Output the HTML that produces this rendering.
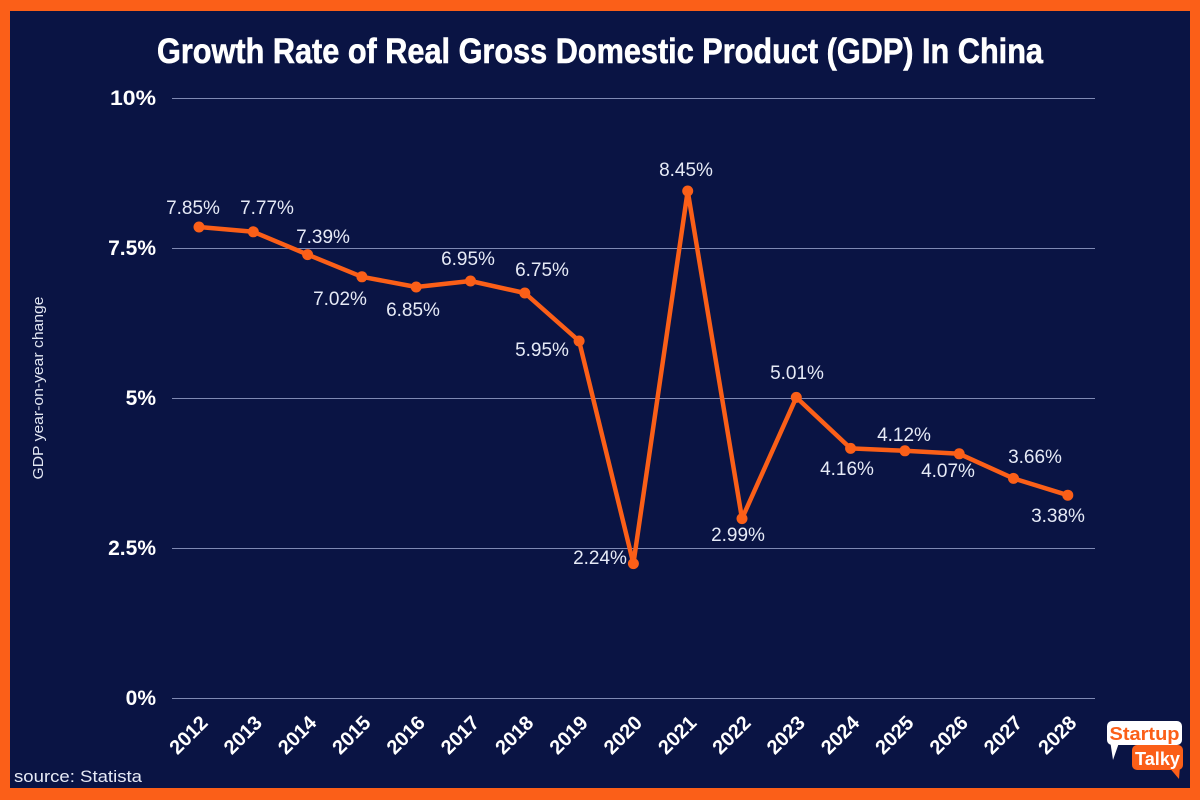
<!DOCTYPE html>
<html>
<head>
<meta charset="utf-8">
<style>
html,body{margin:0;padding:0;background:#fb5f18;}
svg{display:block;}
</style>
</head>
<body>
<svg width="1200" height="800" viewBox="0 0 1200 800" xmlns="http://www.w3.org/2000/svg">
  <rect x="0" y="0" width="1200" height="800" fill="#fb5f18"/>
  <rect x="10" y="11" width="1180" height="777" fill="#0a1444"/>

  <!-- Title -->
  <text x="600" y="63" text-anchor="middle" font-family="Liberation Sans, sans-serif" font-weight="bold" font-size="35" fill="#ffffff" textLength="886" lengthAdjust="spacingAndGlyphs" stroke="#ffffff" stroke-width="0.6">Growth Rate of Real Gross Domestic Product (GDP) In China</text>

  <!-- Gridlines -->
  <g stroke="#7f89b3" stroke-width="1">
    <line x1="172" y1="98.5" x2="1095" y2="98.5"/>
    <line x1="172" y1="248.5" x2="1095" y2="248.5"/>
    <line x1="172" y1="398.5" x2="1095" y2="398.5"/>
    <line x1="172" y1="548.5" x2="1095" y2="548.5"/>
    <line x1="172" y1="698.5" x2="1095" y2="698.5"/>
  </g>

  <!-- Y tick labels -->
  <g font-family="Liberation Sans, sans-serif" font-weight="bold" font-size="21" fill="#ffffff" text-anchor="end">
    <text x="156" y="105" textLength="46" lengthAdjust="spacingAndGlyphs">10%</text>
    <text x="156" y="255">7.5%</text>
    <text x="156" y="405">5%</text>
    <text x="156" y="555">2.5%</text>
    <text x="156" y="705">0%</text>
  </g>

  <!-- Y axis title -->
  <text transform="translate(43,388) rotate(-90)" text-anchor="middle" font-family="Liberation Sans, sans-serif" font-size="15" fill="#e2e6f2" textLength="183" lengthAdjust="spacingAndGlyphs">GDP year-on-year change</text>

  <!-- Line -->
  <polyline fill="none" stroke="#fb5f18" stroke-width="4.5" stroke-linejoin="round"
    points="199,227 253.3,231.8 307.6,254.6 361.9,276.8 416.2,287 470.5,281 524.8,293 579.1,341 633.4,563.6 687.7,191 742,518.6 796.3,397.4 850.6,448.4 904.9,450.8 959.2,453.8 1013.5,478.4 1067.8,495.2"/>
  <g fill="#fb5f18">
    <circle cx="199" cy="227" r="5.5"/>
    <circle cx="253.3" cy="231.8" r="5.5"/>
    <circle cx="307.6" cy="254.6" r="5.5"/>
    <circle cx="361.9" cy="276.8" r="5.5"/>
    <circle cx="416.2" cy="287" r="5.5"/>
    <circle cx="470.5" cy="281" r="5.5"/>
    <circle cx="524.8" cy="293" r="5.5"/>
    <circle cx="579.1" cy="341" r="5.5"/>
    <circle cx="633.4" cy="563.6" r="5.5"/>
    <circle cx="687.7" cy="191" r="5.5"/>
    <circle cx="742" cy="518.6" r="5.5"/>
    <circle cx="796.3" cy="397.4" r="5.5"/>
    <circle cx="850.6" cy="448.4" r="5.5"/>
    <circle cx="904.9" cy="450.8" r="5.5"/>
    <circle cx="959.2" cy="453.8" r="5.5"/>
    <circle cx="1013.5" cy="478.4" r="5.5"/>
    <circle cx="1067.8" cy="495.2" r="5.5"/>
  </g>

  <!-- Data labels -->
  <g font-family="Liberation Sans, sans-serif" font-size="19" fill="#e6eaf6" text-anchor="middle">
    <text x="193" y="214">7.85%</text>
    <text x="267" y="214">7.77%</text>
    <text x="323" y="243">7.39%</text>
    <text x="340" y="305">7.02%</text>
    <text x="413" y="316">6.85%</text>
    <text x="468" y="265">6.95%</text>
    <text x="542" y="276">6.75%</text>
    <text x="542" y="356">5.95%</text>
    <text x="600" y="564">2.24%</text>
    <text x="686" y="176">8.45%</text>
    <text x="738" y="541">2.99%</text>
    <text x="797" y="379">5.01%</text>
    <text x="847" y="475">4.16%</text>
    <text x="904" y="441">4.12%</text>
    <text x="948" y="477">4.07%</text>
    <text x="1035" y="463">3.66%</text>
    <text x="1058" y="522">3.38%</text>
  </g>

  <!-- X labels -->
  <g font-family="Liberation Sans, sans-serif" font-weight="bold" font-size="20" fill="#ffffff" text-anchor="end">
    <text transform="translate(209,724) rotate(-45)">2012</text>
    <text transform="translate(263.3,724) rotate(-45)">2013</text>
    <text transform="translate(317.6,724) rotate(-45)">2014</text>
    <text transform="translate(371.9,724) rotate(-45)">2015</text>
    <text transform="translate(426.2,724) rotate(-45)">2016</text>
    <text transform="translate(480.5,724) rotate(-45)">2017</text>
    <text transform="translate(534.8,724) rotate(-45)">2018</text>
    <text transform="translate(589.1,724) rotate(-45)">2019</text>
    <text transform="translate(643.4,724) rotate(-45)">2020</text>
    <text transform="translate(697.7,724) rotate(-45)">2021</text>
    <text transform="translate(752,724) rotate(-45)">2022</text>
    <text transform="translate(806.3,724) rotate(-45)">2023</text>
    <text transform="translate(860.6,724) rotate(-45)">2024</text>
    <text transform="translate(914.9,724) rotate(-45)">2025</text>
    <text transform="translate(969.2,724) rotate(-45)">2026</text>
    <text transform="translate(1023.5,724) rotate(-45)">2027</text>
    <text transform="translate(1077.8,724) rotate(-45)">2028</text>
  </g>

  <!-- Source -->
  <text x="14" y="782" font-family="Liberation Sans, sans-serif" font-size="17" fill="#e6eaf6" textLength="128" lengthAdjust="spacingAndGlyphs">source: Statista</text>

  <!-- Logo -->
  <g>
    <rect x="1107" y="721" width="75" height="24" rx="5" fill="#ffffff"/>
    <polygon points="1110,740 1120,740 1113,760" fill="#ffffff"/>
    <rect x="1132" y="745" width="51" height="25" rx="5" fill="#fb5f18"/>
    <polygon points="1168,766 1180,766 1179,779" fill="#fb5f18"/>
    <text x="1144.5" y="740" text-anchor="middle" font-family="Liberation Sans, sans-serif" font-weight="bold" font-size="18" fill="#fb5f18" textLength="70" lengthAdjust="spacingAndGlyphs">Startup</text>
    <text x="1157.5" y="765" text-anchor="middle" font-family="Liberation Sans, sans-serif" font-weight="bold" font-size="18" fill="#ffffff" textLength="45" lengthAdjust="spacingAndGlyphs">Talky</text>
  </g>
</svg>
</body>
</html>
